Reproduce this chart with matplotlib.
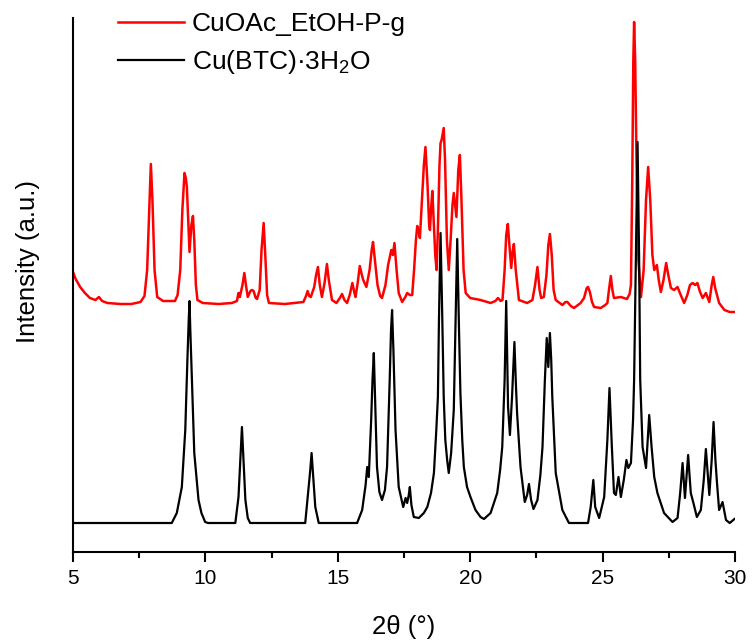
import numpy as np
import matplotlib
matplotlib.use("Agg")
import matplotlib.pyplot as plt
from matplotlib.ticker import MultipleLocator

plt.rcParams['font.family'] = ['Liberation Sans', 'DejaVu Sans']
plt.rcParams['mathtext.fontset'] = 'custom'
plt.rcParams['mathtext.rm'] = 'Liberation Sans'
plt.rcParams['mathtext.it'] = 'Liberation Sans'

# CuOAc_EtOH-P-g (red, offset pattern)
red_2theta = [5.00, 5.10, 5.27, 5.45, 5.64, 5.85, 5.98, 6.10, 6.30, 6.80, 7.20, 7.55, 7.70, 7.80, 7.88,
              7.94, 8.00, 8.08, 8.18, 8.40, 8.85, 8.95, 9.05, 9.13, 9.21, 9.26, 9.30, 9.35, 9.40, 9.47,
              9.53, 9.58, 9.64, 9.70, 9.90, 10.50, 11.00, 11.19, 11.25, 11.30, 11.40, 11.47, 11.53, 11.60,
              11.70, 11.76, 11.82, 11.90, 11.95, 12.05, 12.12, 12.20, 12.27, 12.33, 12.40, 13.00, 13.70,
              13.80, 13.86, 13.92, 13.98, 14.11, 14.18, 14.25, 14.32, 14.40, 14.50, 14.59, 14.66, 14.78,
              14.95, 15.10, 15.16, 15.25, 15.35, 15.45, 15.55, 15.62, 15.67, 15.75, 15.83, 15.90, 15.96,
              16.08, 16.20, 16.28, 16.33, 16.40, 16.50, 16.60, 16.67, 16.80, 16.90, 17.02, 17.08, 17.14,
              17.22, 17.30, 17.43, 17.55, 17.62, 17.72, 17.81, 17.88, 17.95, 18.00, 18.06, 18.10, 18.18,
              18.25, 18.31, 18.38, 18.45, 18.48, 18.52, 18.57, 18.62, 18.68, 18.73, 18.78, 18.84, 18.88,
              18.92, 19.00, 19.05, 19.12, 19.19, 19.26, 19.33, 19.38, 19.43, 19.48, 19.55, 19.61, 19.67,
              19.75, 19.83, 20.00, 20.39, 20.77, 20.95, 21.05, 21.15, 21.22, 21.30, 21.36, 21.42, 21.48,
              21.55, 21.60, 21.65, 21.72, 21.84, 22.15, 22.35, 22.45, 22.54, 22.62, 22.68, 22.78, 22.88,
              22.95, 23.01, 23.08, 23.15, 23.23, 23.48, 23.60, 23.67, 23.80, 23.92, 24.17, 24.30, 24.40,
              24.45, 24.52, 24.60, 24.68, 24.93, 25.10, 25.18, 25.24, 25.31, 25.37, 25.43, 25.69, 25.92,
              26.02, 26.07, 26.12, 26.16, 26.19, 26.23, 26.28, 26.35, 26.45, 26.55, 26.64, 26.72, 26.80,
              26.88, 26.95, 27.05, 27.12, 27.20, 27.30, 27.40, 27.48, 27.58, 27.70, 27.83, 27.95, 28.08,
              28.20, 28.30, 28.40, 28.50, 28.58, 28.68, 28.78, 28.90, 29.03, 29.12, 29.18, 29.25, 29.40,
              29.60, 29.80, 30.00]
red_int = [280, 273, 265, 259, 254, 252, 255, 251, 249, 248, 248, 250, 256, 282, 342,
           388, 352, 282, 255, 251, 251, 257, 282, 342, 379, 374, 365, 332, 300, 327,
           336, 312, 267, 252, 249, 248, 249, 251, 259, 255, 267, 279, 267, 255,
           261, 262, 261, 254, 253, 262, 302, 329, 292, 257, 249, 248, 250,
           256, 261, 256, 255, 265, 277, 285, 267, 255, 269, 288, 272, 252,
           249, 255, 258, 252, 249, 257, 269, 260, 255, 269, 286, 278, 272,
           265, 282, 302, 310, 292, 267, 256, 254, 267, 287, 302, 297, 309,
           282, 259, 250, 255, 259, 257, 257, 282, 312, 326, 320, 314, 352,
           387, 405, 372, 327, 322, 342, 361, 332, 297, 282, 322, 387, 409,
           412, 424, 392, 312, 282, 312, 347, 359, 347, 335, 382, 397, 352,
           282, 259, 254, 252, 249, 251, 254, 251, 252, 282, 317, 328, 307,
           284, 300, 308, 282, 252, 249, 252, 267, 285, 262, 254, 255, 277,
           307, 318, 297, 262, 252, 247, 250, 250, 246, 244, 249, 254, 264,
           265, 260, 250, 245, 244, 247, 249, 262, 276, 262, 254, 255, 253,
           258, 267, 372, 492, 530, 492, 392, 292, 255, 282, 352, 385, 352,
           297, 282, 287, 272, 260, 272, 289, 277, 264, 262, 265, 257, 249,
           257, 267, 269, 267, 269, 260, 254, 259, 250, 267, 275, 264, 249,
           242, 240, 240]

# Cu(BTC)·3H2O reference pattern (black)
blk_2theta = [5.00, 8.73, 8.92, 9.11, 9.24, 9.32, 9.37, 9.40, 9.43, 9.49, 9.58, 9.74, 9.85, 9.99, 10.10,
              11.13, 11.25, 11.32, 11.38, 11.44, 11.51, 11.60, 11.69, 13.77, 13.90, 13.96, 14.01, 14.08,
              14.15, 14.28, 15.73, 15.92, 16.05, 16.11, 16.17, 16.26, 16.31, 16.36, 16.42, 16.48, 16.57,
              16.67, 16.78, 16.86, 16.96, 17.01, 17.05, 17.10, 17.18, 17.30, 17.47, 17.56, 17.62, 17.68,
              17.72, 17.78, 17.87, 18.06, 18.25, 18.38, 18.52, 18.63, 18.72, 18.78, 18.82, 18.88, 18.94,
              19.00, 19.06, 19.13, 19.19, 19.28, 19.38, 19.44, 19.51, 19.57, 19.63, 19.70, 19.76, 19.88,
              20.01, 20.20, 20.39, 20.52, 20.77, 21.02, 21.13, 21.21, 21.30, 21.36, 21.43, 21.50, 21.58,
              21.67, 21.72, 21.77, 21.90, 22.06, 22.15, 22.22, 22.30, 22.39, 22.54, 22.65, 22.73, 22.82,
              22.89, 22.95, 23.01, 23.06, 23.10, 23.23, 23.48, 23.73, 24.45, 24.55, 24.65, 24.72, 24.87,
              25.06, 25.18, 25.26, 25.35, 25.43, 25.50, 25.60, 25.69, 25.80, 25.90, 25.97, 26.07, 26.15,
              26.19, 26.26, 26.32, 26.38, 26.42, 26.51, 26.64, 26.76, 26.85, 26.95, 27.07, 27.32, 27.64,
              27.83, 27.93, 28.02, 28.11, 28.23, 28.33, 28.43, 28.56, 28.71, 28.82, 28.90, 29.03, 29.12,
              29.19, 29.26, 29.32, 29.40, 29.53, 29.66, 29.80, 29.98]
blk_int = [29, 29, 39, 65, 122, 192, 232, 251, 222, 172, 99, 52, 39, 30, 29,
           29, 55, 92, 125, 92, 52, 34, 29, 29, 65, 82, 99, 72,
           45, 29, 29, 42, 67, 85, 75, 132, 172, 199, 142, 85, 60,
           52, 62, 85, 172, 222, 242, 202, 122, 65, 45, 54, 49, 57,
           65, 47, 35, 34, 39, 45, 59, 79, 122, 155, 232, 319, 242,
           155, 112, 92, 79, 99, 142, 222, 313, 232, 159, 112, 85, 65,
           55, 42, 35, 33, 39, 59, 82, 105, 172, 251, 145, 117, 155,
           210, 172, 139, 85, 50, 57, 68, 52, 43, 52, 77, 105, 172,
           214, 185, 219, 192, 155, 79, 42, 29, 29, 45, 72, 45, 34,
           55, 112, 164, 105, 59, 57, 75, 55, 72, 92, 84, 89, 132,
           172, 302, 410, 292, 172, 105, 84, 137, 105, 75, 59, 39, 30,
           34, 59, 89, 54, 97, 59, 49, 35, 42, 72, 103, 57, 92,
           130, 92, 69, 42, 50, 32, 29, 33]

fig = plt.figure(figsize=(7.52, 6.42), dpi=100)
ax = fig.add_axes([73/752, 1 - 552/642, 662/752, 534/642])

ax.plot(red_2theta, red_int, color='#ff0000', lw=1.8, label='CuOAc_EtOH-P-g')
ax.plot(blk_2theta, blk_int, color='black', lw=1.6, label='Cu(BTC)·3H$_2$O')

ax.set_xlim(5, 30)
ax.set_ylim(0, 534)
ax.spines['top'].set_visible(False)
ax.spines['right'].set_visible(False)
ax.spines['left'].set_linewidth(1.5)
ax.spines['bottom'].set_linewidth(1.5)
ax.set_yticks([])
ax.xaxis.set_major_locator(MultipleLocator(5))
ax.xaxis.set_minor_locator(MultipleLocator(2.5))
ax.tick_params(axis='x', which='major', direction='out', length=7.5, width=1.5,
               labelsize=15, pad=5)
ax.tick_params(axis='x', which='minor', direction='out', length=4.5, width=1.5)

fig.text(404/752, 1 - 627/642, '2θ (°)', ha='center', va='center', fontsize=18.5)
fig.text(28/752, 1 - 262/642, 'Intensity (a.u.)', ha='center', va='center',
         rotation=90, fontsize=18.5)

ax.legend(loc='upper left', bbox_to_anchor=(118/752, 1 - 12/642),
          bbox_transform=fig.transFigure, frameon=False, fontsize=19,
          handlelength=2.5, handletextpad=0.3, labelspacing=0.45,
          borderaxespad=0, borderpad=0)

fig.savefig('out.png', dpi=100)
